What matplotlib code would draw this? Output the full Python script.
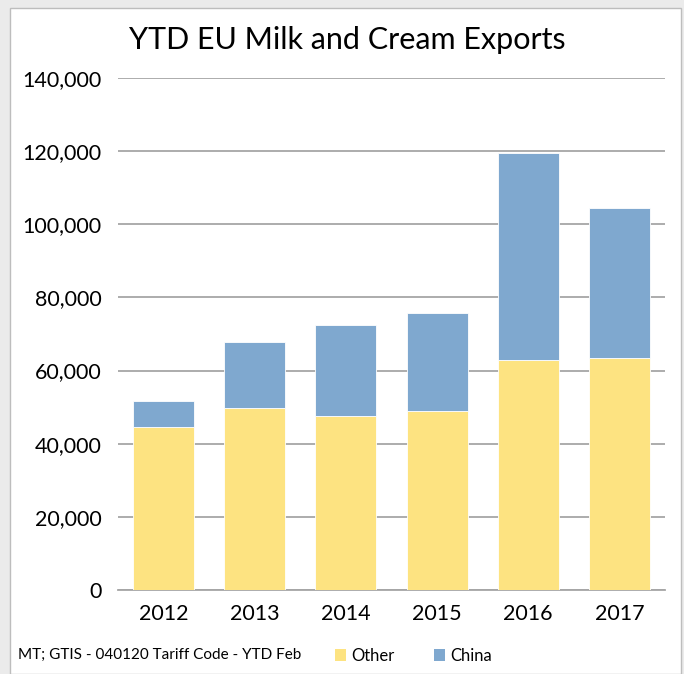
import matplotlib.pyplot as plt
from matplotlib.patches import Rectangle, Patch
plt.rcParams["font.family"] = ["Lato", "DejaVu Sans"]

years = ["2012", "2013", "2014", "2015", "2016", "2017"]
other = [44600, 49800, 47600, 48900, 62900, 63400]
china = [7100, 18000, 24900, 26800, 56600, 41100]

yellow = "#FDE381"
blue = "#7FA8CF"

fig = plt.figure(figsize=(6.84, 6.74), dpi=100, facecolor="#EBEBEB")

# white chart panel with thin grey frame
fig.patches.append(Rectangle((10 / 684, 0), 671 / 684, 666 / 674,
                             transform=fig.transFigure, facecolor="white",
                             edgecolor="#BDBDBD", linewidth=1.0, zorder=-5))

ax = fig.add_axes([118 / 684, 84 / 674, 547 / 684, 512 / 674])
ax.set_facecolor("white")

x = range(len(years))
ax.bar(x, other, width=0.67, color=yellow, edgecolor="white", linewidth=0.6, zorder=3, label="Other")
ax.bar(x, china, width=0.67, bottom=other, color=blue, edgecolor="white", linewidth=0.6, zorder=3, label="China")

ax.set_xlim(-0.5, 5.5)
ax.set_ylim(0, 140000)
ax.set_yticks(range(0, 140001, 20000))
ax.set_yticklabels([f"{v:,}" for v in range(0, 140001, 20000)])
ax.set_xticks(list(x))
ax.set_xticklabels(years)
ax.yaxis.grid(True, color="#A6A6A6", linewidth=1.3, zorder=0)
ax.set_axisbelow(True)
for s in ["left", "right", "top"]:
    ax.spines[s].set_visible(False)
ax.spines["bottom"].set_color("#A6A6A6")
ax.spines["bottom"].set_linewidth(1.3)
ax.tick_params(axis="both", length=0, labelsize=15.5)
ax.tick_params(axis="x", pad=10)
ax.tick_params(axis="y", pad=12)

fig.text(347 / 684, 1 - 40 / 674, "YTD EU Milk and Cream Exports",
         ha="center", va="center", fontsize=22)
fig.text(18 / 684, 1 - 655 / 674, "MT; GTIS - 040120 Tariff Code - YTD Feb",
         ha="left", va="center", fontsize=11)

handles = [Patch(facecolor=yellow), Patch(facecolor=blue)]
fig.legend(handles, ["Other", "China"], ncol=2, frameon=False, fontsize=12,
           loc="center left", bbox_to_anchor=(335 / 684, 1 - 656 / 674),
           handlelength=0.65, handleheight=0.7, handletextpad=0.3,
           columnspacing=2.4, borderaxespad=0, borderpad=0)

fig.savefig("out.png", dpi=100, facecolor=fig.get_facecolor())
